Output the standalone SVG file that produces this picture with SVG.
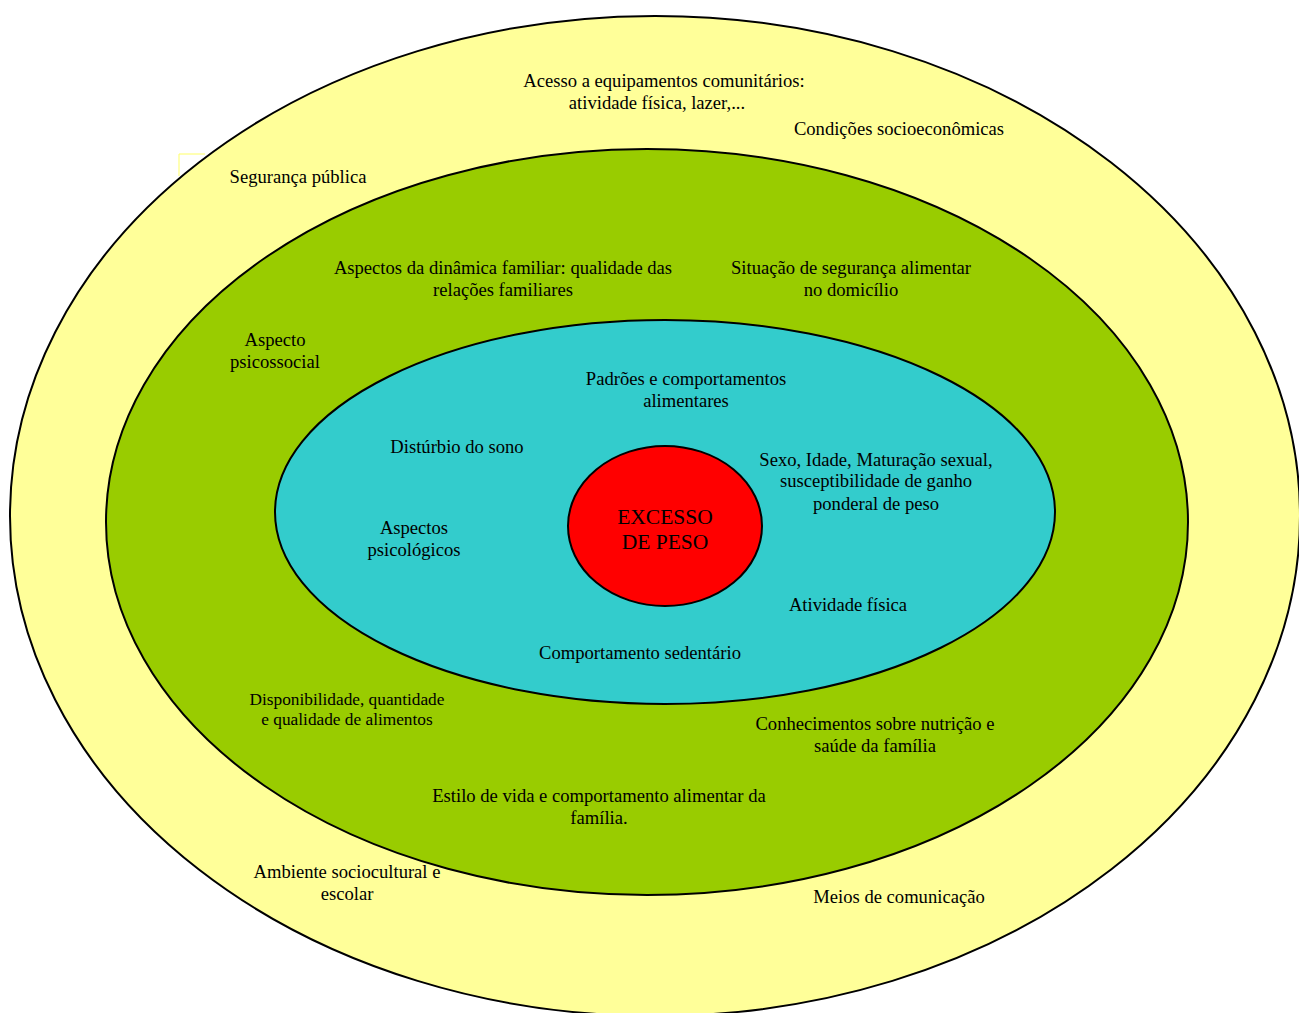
<svg xmlns="http://www.w3.org/2000/svg" width="1299" height="1013" viewBox="0 0 1299 1013">
<style>
text{font-family:"Liberation Serif","Times New Roman",serif;font-size:18.6px;fill:#000;text-anchor:middle}
.big{font-size:21.5px}
.sm{font-size:17.3px}
ellipse{stroke:#000;stroke-width:2}
</style>
<rect width="1299" height="1013" fill="#fff"/>
<g id="outer">
<ellipse cx="655" cy="516" rx="645" ry="500" fill="#ffff99"/>
<polyline points="179,176 179,154 205,154" fill="none" stroke="#ffff66" stroke-width="1"/>
<text x="664" y="87">Acesso a equipamentos comunitários:</text>
<text x="657" y="109">atividade física, lazer,...</text>
<text x="899" y="135">Condições socioeconômicas</text>
<text x="298" y="183">Segurança pública</text>
<text x="347" y="878">Ambiente sociocultural e</text>
<text x="347" y="900">escolar</text>
<text x="899" y="903">Meios de comunicação</text>
</g>
<g id="middle">
<ellipse cx="647" cy="522" rx="541" ry="373" fill="#99cc00"/>
<text x="503" y="274">Aspectos da dinâmica familiar: qualidade das</text>
<text x="503" y="296">relações familiares</text>
<text x="851" y="274">Situação de segurança alimentar</text>
<text x="851" y="296">no domicílio</text>
<text x="275" y="346">Aspecto</text>
<text x="275" y="368">psicossocial</text>
<text class="sm" x="347" y="705">Disponibilidade, quantidade</text>
<text class="sm" x="347" y="725">e qualidade de alimentos</text>
<text x="875" y="730">Conhecimentos sobre nutrição e</text>
<text x="875" y="752">saúde da família</text>
<text x="599" y="802">Estilo de vida e comportamento alimentar da</text>
<text x="599" y="824">família.</text>
</g>
<g id="inner">
<ellipse cx="665" cy="512" rx="390" ry="192" fill="#33cccc"/>
<text x="686" y="385">Padrões e comportamentos</text>
<text x="686" y="407">alimentares</text>
<text x="457" y="453">Distúrbio do sono</text>
<text x="876" y="466">Sexo, Idade, Maturação sexual,</text>
<text x="876" y="487">susceptibilidade de ganho</text>
<text x="876" y="510">ponderal de peso</text>
<text x="414" y="534">Aspectos</text>
<text x="414" y="556">psicológicos</text>
<text x="848" y="611">Atividade física</text>
<text x="640" y="659">Comportamento sedentário</text>
</g>
<g id="core">
<ellipse cx="665" cy="526" rx="97" ry="80" fill="#ff0000"/>
<text class="big" x="665" y="524">EXCESSO</text>
<text class="big" x="665" y="549">DE PESO</text>
</g>
<g id="connectors"></g>
</svg>
